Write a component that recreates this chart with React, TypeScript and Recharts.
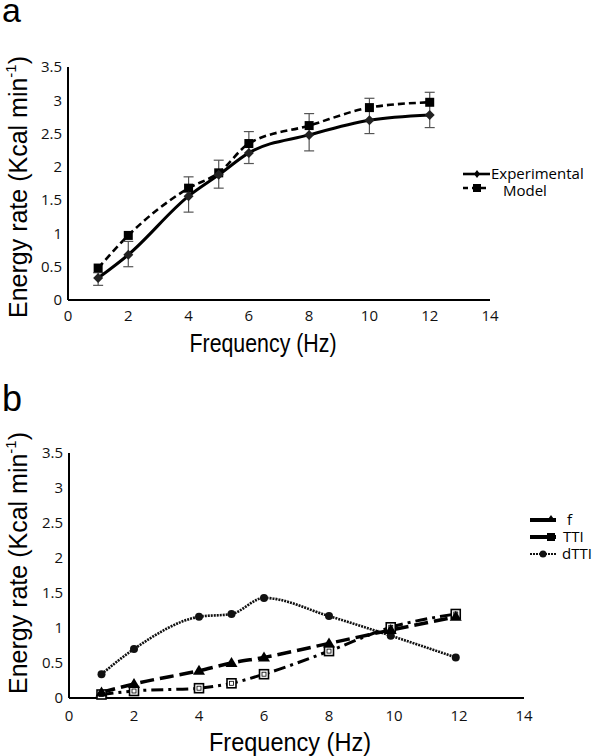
import React from 'react';
import { LineChart, Line, XAxis, YAxis, ErrorBar } from 'recharts';

const freqA = [1, 2, 4, 5, 6, 8, 10, 12];
const experimental = [0.33, 0.68, 1.56, 1.88, 2.21, 2.48, 2.7, 2.78];
const model = [0.48, 0.97, 1.68, 1.91, 2.35, 2.62, 2.89, 2.97];
const expErrLow = [0.11, 0.18, 0.24, 0.2, 0.16, 0.24, 0.2, 0.19];
const expErrHigh = [0.08, 0.2, 0.29, 0.22, 0.32, 0.32, 0.33, 0.34];

const freqB = [1, 2, 4, 5, 6, 8, 9.9, 11.9];
const fSeries = [0.08, 0.2, 0.39, 0.5, 0.58, 0.78, 0.97, 1.16];
const ttiSeries = [0.05, 0.1, 0.14, 0.21, 0.34, 0.67, 1.01, 1.2];
const dttiSeries = [0.34, 0.7, 1.16, 1.2, 1.43, 1.17, 0.89, 0.58];

const xTicks = [0, 2, 4, 6, 8, 10, 12, 14];
const yTicks = [0, 0.5, 1, 1.5, 2, 2.5, 3, 3.5];

const dataA = freqA.map((x, i) => ({
  x,
  exp: experimental[i],
  model: model[i],
  errExp: [expErrLow[i], expErrHigh[i]],
}));

const dataB = freqB.map((x, i) => ({
  x,
  f: fSeries[i],
  tti: ttiSeries[i],
  dtti: dttiSeries[i],
}));

const tickFont = { fontFamily: 'Open Sans', fontSize: 15, fill: '#111' };
const titleFont = 'Liberation Sans, Arial, sans-serif';

const Diamond = (p: any) => {
  const { cx, cy, index } = p;
  if (cx == null || cy == null) return <g key={index} />;
  const r = 5;
  return (
    <path key={index} d={`M${cx},${cy - r}L${cx + r},${cy}L${cx},${cy + r}L${cx - r},${cy}Z`} fill="#222" />
  );
};

const FilledSquare = (p: any) => {
  const { cx, cy, index } = p;
  if (cx == null || cy == null) return <g key={index} />;
  return <rect key={index} x={cx - 4.5} y={cy - 4.5} width={9} height={9} fill="#000" />;
};

const OpenSquare = (p: any) => {
  const { cx, cy, index } = p;
  if (cx == null || cy == null) return <g key={index} />;
  return (
    <g key={index}>
      <rect x={cx - 4.5} y={cy - 4.5} width={9} height={9} fill="#fff" stroke="#000" strokeWidth={1.6} />
      <rect x={cx - 2} y={cy - 2} width={4} height={4} fill="none" stroke="#000" strokeWidth={0.8} />
    </g>
  );
};

const Triangle = (p: any) => {
  const { cx, cy, index } = p;
  if (cx == null || cy == null) return <g key={index} />;
  return <path key={index} d={`M${cx},${cy - 6}L${cx + 6},${cy + 4}L${cx - 6},${cy + 4}Z`} fill="#000" />;
};

const Circle = (p: any) => {
  const { cx, cy, index } = p;
  if (cx == null || cy == null) return <g key={index} />;
  return <circle key={index} cx={cx} cy={cy} r={4} fill="#111" />;
};

const YLabel = ({ x, cy }: { x: number; cy: number }) => (
  <text
    x={x}
    y={cy}
    transform={`rotate(-90 ${x} ${cy})`}
    textAnchor="middle"
    fontFamily={titleFont}
    fontSize={25}
    fill="#000"
  >
    Energy rate (Kcal min
    <tspan fontSize={15} dy={-11}>-1</tspan>
    <tspan dy={11}>)</tspan>
  </text>
);

export default function App() {
  return (
    <div
      style={{
        position: 'absolute',
        left: 0,
        top: 0,
        width: 600,
        height: 756,
        background: '#fff',
        fontFamily: 'Open Sans, sans-serif',
      }}
    >
      <div style={{ position: 'absolute', left: 0, top: 0 }}>
        <LineChart width={600} height={380} data={dataA} margin={{ top: 67, right: 110, bottom: 50, left: 28 }}>
          <XAxis
            dataKey="x"
            type="number"
            domain={[0, 14]}
            ticks={xTicks}
            height={30}
            axisLine={{ stroke: '#000', strokeWidth: 2 }}
            tickLine={false}
            tickSize={0}
            tickMargin={10}
            tick={tickFont}
            interval={0}
          />
          <YAxis
            type="number"
            domain={[0, 3.5]}
            ticks={yTicks}
            width={40}
            axisLine={{ stroke: '#000', strokeWidth: 2 }}
            tickLine={false}
            tickSize={0}
            tickMargin={6}
            tick={tickFont}
            interval={0}
          />
          <Line
            dataKey="model"
            type="monotone"
            stroke="#000"
            strokeWidth={2.6}
            strokeDasharray="7 4"
            dot={FilledSquare}
            isAnimationActive={false}
          />
          <Line
            dataKey="exp"
            type="monotone"
            stroke="#000"
            strokeWidth={3}
            dot={Diamond}
            isAnimationActive={false}
          >
            <ErrorBar dataKey="errExp" direction="y" width={5} strokeWidth={1.2} stroke="#555" />
          </Line>
        </LineChart>
      </div>

      <div style={{ position: 'absolute', left: 0, top: 380 }}>
        <LineChart width={600} height={376} data={dataB} margin={{ top: 73, right: 76, bottom: 28, left: 29 }}>
          <XAxis
            dataKey="x"
            type="number"
            domain={[0, 14]}
            ticks={xTicks}
            height={30}
            axisLine={{ stroke: '#000', strokeWidth: 2 }}
            tickLine={false}
            tickSize={0}
            tickMargin={12}
            tick={tickFont}
            interval={0}
          />
          <YAxis
            type="number"
            domain={[0, 3.5]}
            ticks={yTicks}
            width={40}
            axisLine={{ stroke: '#000', strokeWidth: 2 }}
            tickLine={false}
            tickSize={0}
            tickMargin={6}
            tick={tickFont}
            interval={0}
          />
          <Line
            dataKey="dtti"
            type="monotone"
            stroke="#111"
            strokeWidth={2.6}
            strokeDasharray="2 1"
            dot={Circle}
            isAnimationActive={false}
          />
          <Line
            dataKey="tti"
            type="monotone"
            stroke="#000"
            strokeWidth={3}
            strokeDasharray="12 5 3 5"
            dot={OpenSquare}
            isAnimationActive={false}
          />
          <Line
            dataKey="f"
            type="monotone"
            stroke="#000"
            strokeWidth={3.5}
            strokeDasharray="14 6"
            dot={Triangle}
            isAnimationActive={false}
          />
        </LineChart>
      </div>

      <svg
        width={600}
        height={756}
        style={{ position: 'absolute', left: 0, top: 0, pointerEvents: 'none' }}
      >
        <text x={2} y={22} fontFamily={titleFont} fontSize={34} fill="#000">a</text>
        <text x={2} y={411} fontFamily={titleFont} fontSize={36} fill="#000">b</text>

        <YLabel x={27} cy={187} />
        <YLabel x={27} cy={563} />

        <text
          x={263}
          y={352}
          textAnchor="middle"
          fontFamily={titleFont}
          fontSize={25}
          textLength={147}
          lengthAdjust="spacingAndGlyphs"
          fill="#000"
        >
          Frequency (Hz)
        </text>
        <text
          x={290}
          y={751}
          textAnchor="middle"
          fontFamily={titleFont}
          fontSize={25}
          textLength={162}
          lengthAdjust="spacingAndGlyphs"
          fill="#000"
        >
          Frequency (Hz)
        </text>

        {/* Legend a */}
        <line x1={463} y1={174} x2={490} y2={174} stroke="#000" strokeWidth={2.6} />
        <path d="M477,170L480,174L477,178L474,174Z" fill="#000" />
        <text x={491} y={179} fontFamily="Open Sans" fontSize={15} fill="#000">Experimental</text>
        <line x1={463} y1={188} x2={490} y2={188} stroke="#000" strokeWidth={2.6} strokeDasharray="5 4" />
        <rect x={473} y={184} width={8} height={8} fill="#000" />
        <text x={503} y={196} fontFamily="Open Sans" fontSize={15} fill="#000">Model</text>

        {/* Legend b */}
        <line x1={530} y1={520} x2={556} y2={520} stroke="#000" strokeWidth={4} />
        <path d="M551,515L556,522L546,522Z" fill="#000" />
        <text x={567} y={525} fontFamily="Open Sans" fontSize={15} fill="#000">f</text>
        <line x1={530} y1={537} x2={556} y2={537} stroke="#000" strokeWidth={4} />
        <rect x={547} y={533} width={8} height={8} fill="#000" />
        <text x={563} y={542} fontFamily="Open Sans" fontSize={15} fill="#000">TTI</text>
        <line x1={530} y1={554} x2={557} y2={554} stroke="#111" strokeWidth={2.2} strokeDasharray="2 1" />
        <circle cx={543} cy={554} r={3.5} fill="#111" />
        <text x={562} y={559} fontFamily="Open Sans" fontSize={15} fill="#000">dTTI</text>
      </svg>
    </div>
  );
}
